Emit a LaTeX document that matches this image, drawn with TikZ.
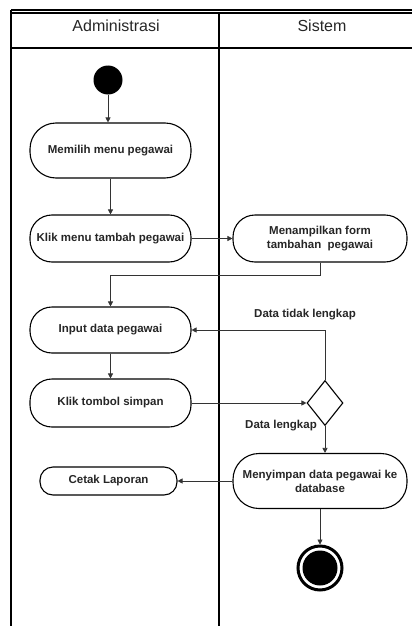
\documentclass[tikz,border=0pt]{standalone}
\usepackage{fontspec}
\setmainfont{Liberation Sans}
\usetikzlibrary{arrows.meta,shapes.geometric}

\begin{document}
\begin{tikzpicture}[x=1pt,y=-1pt,inner sep=0.3mm,>={Triangle[length=5pt,width=5pt]},
  act/.style={draw,line width=1.1pt,rounded corners=22pt,align=center,text=black!85,font=\fontsize{11.5}{14}\selectfont\bfseries},
  lbl/.style={text=black!85,font=\fontsize{11.5}{14}\selectfont\bfseries},
  flow/.style={->,line width=0.7pt,color=black!80!white},
  lane/.style={line width=1.3pt}]

\useasboundingbox (0,0) rectangle (412,626);

\draw[lane] (11,10) -- (412,10);
\draw[lane] (11,13) -- (412,13);
\draw[lane] (11,48) -- (412,48);
\draw[lane] (11,10) -- (11,626);
\draw[lane,line width=1.8pt] (219,13) -- (219,626);

\node(adm) at (116,26) [text=black!85,font=\fontsize{16}{18}\selectfont] {Administrasi};
\node(sis) at (322,26) [text=black!85,font=\fontsize{16}{18}\selectfont] {Sistem};

\node(start) at (108,80) [circle,fill=black,minimum size=29pt] {};
\node(memilih) at (110.5,150.5) [act,rounded corners=26pt,minimum width=161pt,minimum height=55pt] {Memilih menu pegawai};
\node(klikmenu) at (110.5,238.5) [act,minimum width=161pt,minimum height=47pt] {Klik menu tambah pegawai};
\node(tampil) at (320,238.5) [act,minimum width=174pt,minimum height=47pt] {Menampilkan form\\tambahan\ \ pegawai};
\node(input) at (110.5,330) [act,minimum width=161pt,minimum height=46pt] {Input data pegawai};
\node(simpan) at (110.5,403) [act,minimum width=161pt,minimum height=48pt] {Klik tombol simpan};
\node(cek) at (325,403) [diamond,draw,line width=1.1pt,inner sep=0pt,minimum width=36pt,minimum height=45pt] {};
\node(simpandb) at (320,481) [act,rounded corners=26pt,minimum width=174pt,minimum height=55pt] {Menyimpan data pegawai ke\\database};
\node(cetak) at (108.5,481) [act,rounded corners=13pt,minimum width=137pt,minimum height=28pt] {Cetak Laporan};
\node(end) at (320,568) [circle,draw,line width=3pt,minimum size=44pt] {};
\fill (end.center) circle (17.5);

\node(tidak) at (305,315) [lbl] {Data tidak lengkap};
\node(lengkap) at (281,426) [lbl] {Data lengkap};

\draw[flow] (start) -- (start |- memilih.north);
\draw[flow] (memilih) -- (klikmenu);
\draw[flow] (klikmenu) -- (tampil);
\draw[flow] (tampil.south) -- ++(0,13) -| (input.north);
\draw[flow] (input) -- (simpan);
\draw[flow] (simpan) -- (cek);
\draw[flow] (cek.north) |- (input.east);
\draw[flow] (cek.south) -- (cek.south |- simpandb.north);
\draw[flow] (simpandb) -- (cetak);
\draw[flow] (simpandb) -- (end);

\end{tikzpicture}
\end{document}
